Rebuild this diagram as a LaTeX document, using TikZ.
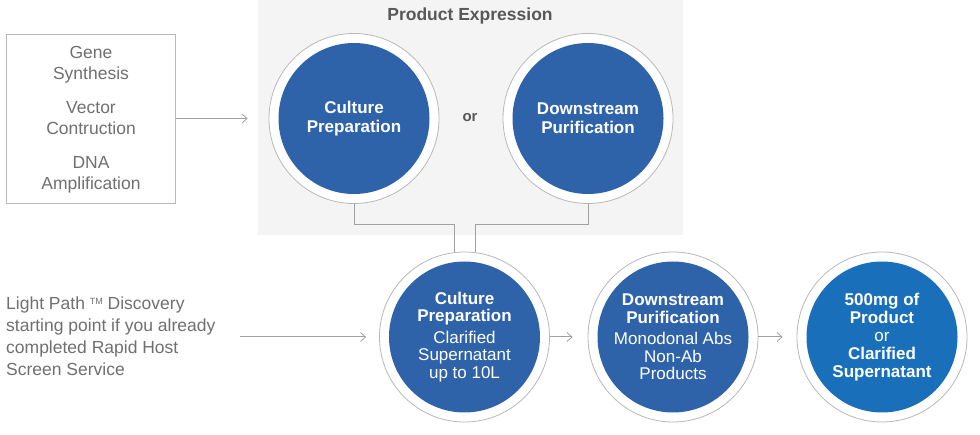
\documentclass[tikz,border=0pt]{standalone}
\usepackage{fontspec}
\setmainfont{Liberation Sans}
\usetikzlibrary{arrows.meta}
\definecolor{panel}{HTML}{F4F4F5}
\definecolor{blueA}{HTML}{2E63AA}
\definecolor{blueC}{HTML}{1A6FBA}
\definecolor{ringc}{HTML}{B8B8B8}
\definecolor{linec}{HTML}{A0A0A0}
\definecolor{txtg}{HTML}{707070}
\definecolor{titleg}{HTML}{585858}
\tikzset{
  ring/.style={circle, draw=ringc, line width=0.8pt, fill=white, minimum size=170pt, inner sep=0pt},
  disk/.style={circle, fill=#1, minimum size=151pt, inner sep=0pt, text=white, align=center},
  conn/.style={draw=linec, line width=1pt},
  arr/.style={conn, -{Straight Barb[length=5pt, width=9pt, line width=0.8pt]}},
  lighttxt/.style={text=txtg, align=center, font=\fontsize{17.5}{21}\selectfont},
}
\begin{document}
\begin{tikzpicture}[x=1pt, y=-1pt]
\useasboundingbox (0,0) rectangle (980,435);
\fill[white] (0,0) rectangle (980,435);
% panel
\fill[panel] (258,0) rectangle (683,235);
\node[text=titleg, font=\bfseries\fontsize{17.5}{19}\selectfont] (title) at (470,16) {Product Expression};
% left box
\node[draw=ringc, line width=0.8pt, minimum width=169pt, minimum height=169pt, inner sep=0pt] (box) at (91,118.5) {};
\node[lighttxt] (boxtxt) at (91,120) {Gene\\Synthesis\\[13pt]Vector\\Contruction\\[13pt]DNA\\Amplification};
% top circles
\node[ring] (r1) at (354,118.5) {};
\node[disk=blueA, font=\bfseries\fontsize{17}{19}\selectfont] (c1) at (354,118.5) {Culture\\Preparation};
\node[ring] (r2) at (588,118.5) {};
\node[disk=blueA, font=\bfseries\fontsize{17}{19}\selectfont] (c2) at (588,118.5) {Downstream\\Purification};
\node[text=titleg, font=\bfseries\fontsize{15}{18}\selectfont] (or) at (470,118) {or};
% bottom circles
\node[ring] (rA) at (464.5,337) {};
\node[disk=blueA, font=\fontsize{17}{17.5}\selectfont] (cA) at (464.5,337) {\bfseries Culture\\\bfseries Preparation\\[4pt]\mdseries Clarified\\Supernatant\\up to 10L};
\node[ring] (rB) at (673,337) {};
\node[disk=blueA, font=\fontsize{17}{17.5}\selectfont] (cB) at (673,337) {\bfseries Downstream\\\bfseries Purification\\[4pt]\mdseries Monodonal Abs\\Non-Ab\\Products};
\node[ring] (rC) at (882,337) {};
\node[disk=blueC, font=\fontsize{17}{18}\selectfont] (cC) at (882,337) {\bfseries 500mg of\\\bfseries Product\\\mdseries or\\\bfseries Clarified\\\bfseries Supernatant};
% left bottom text
\node[anchor=north west, text=txtg, align=left, font=\fontsize{17.5}{22}\selectfont, inner sep=0pt] (lp) at (6,297) {Light Path \raisebox{5pt}{\fontsize{9}{9}\selectfont TM} Discovery\\starting point if you already\\completed Rapid Host\\Screen Service};
% connectors
\coordinate (lpend) at (240,337);
\draw[arr, shorten >=21pt] (box.east) -- (r1.west);
\draw[arr, shorten >=13pt] (lpend) -- (rA.west);
\draw[arr, shorten >=15pt] (rA.east) -- (rB.west);
\draw[arr, shorten >=14pt] (rB.east) -- (rC.west);
\draw[conn] (r1.south) |- (454,225) -- (454,252);
\draw[conn] (r2.south) |- (475,225) -- (475,252);
\end{tikzpicture}
\end{document}
